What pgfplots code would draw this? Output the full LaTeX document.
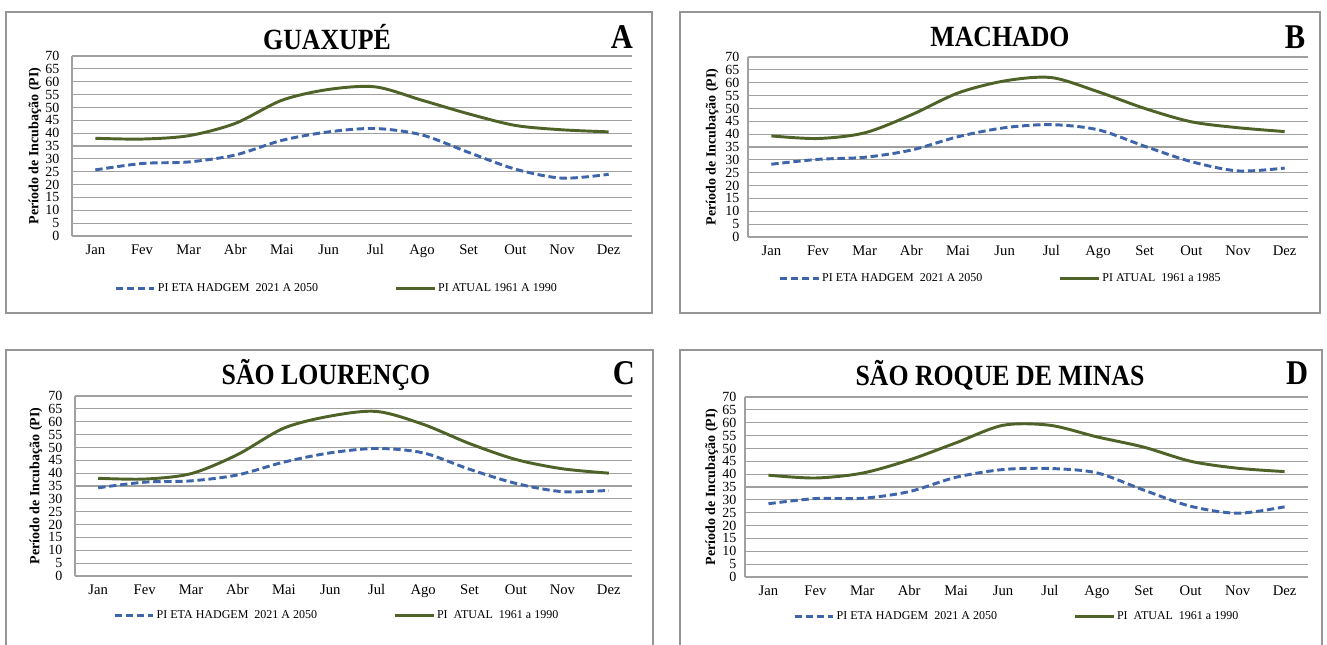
\documentclass[border=0pt]{standalone}
\usepackage{fontspec}
\setmainfont{Liberation Serif}
\newfontfamily\titlefont[FakeStretch=0.88]{Liberation Serif}
\usepackage{pgfplots}
\pgfplotsset{compat=1.18}
\definecolor{pblue}{RGB}{62,100,170}
\definecolor{pgreen}{RGB}{79,98,40}
\definecolor{gridc}{RGB}{160,160,160}
\definecolor{framec}{RGB}{150,150,150}
\pgfplotsset{
 panel/.style={
  scale only axis, width=420pt, height=135pt,
  xmin=-0.5, xmax=11.5, ymin=0, ymax=70,
  xtick={0,...,11}, xticklabels={Jan,Fev,Mar,Abr,Mai,Jun,Jul,Ago,Set,Out,Nov,Dez},
  ytick={0,5,...,70},
  ymajorgrids, grid style={gridc, line width=0.85pt},
  axis x line*=bottom, axis y line*=left, axis line style={gridc, line width=0.85pt, -},
  major tick length=0pt,
  /pgf/number format/assume math mode=true,
  xticklabel style={font=\fontsize{11}{12}\selectfont, text height=1.6ex, text depth=0.3ex, yshift=-3pt},
  yticklabel style={font=\fontsize{10.5}{11}\selectfont},
  ylabel={\textbf{Período de Incubação (PI)}},
  ylabel style={font=\fontsize{10.5}{11}\selectfont},
  legend columns=2,
  legend style={draw=none, fill=none, inner sep=0pt, font=\fontsize{9}{10}\selectfont, nodes={inner sep=1.5pt}, anchor=west},
  legend image code/.code={\draw[##1] (0pt,0pt) -- (29pt,0pt);},
 },
 fut/.style={pblue, line width=2.2pt, dash pattern=on 5.5pt off 2.8pt, smooth, tension=0.5},
 cur/.style={pgreen, line width=2.2pt, smooth, tension=0.5},
}
\begin{document}
\begin{tikzpicture}[x=0.75pt, y=-0.75pt]
\path[use as bounding box] (0,0) rectangle (1327,645);
\draw[framec, line width=1.1pt] (6,12) rectangle (652,313);
\draw[framec, line width=1.1pt] (680,12) rectangle (1320,313);
\draw[framec, line width=1.1pt] (6,350) rectangle (653,660);
\draw[framec, line width=1.1pt] (680,350) rectangle (1322,660);
\coordinate (pa) at (72,236);
\coordinate (pb) at (748,237);
\coordinate (pc) at (75,576);
\coordinate (pd) at (745,577);
\node[font=\titlefont\bfseries\fontsize{22}{24}\selectfont] at (327,37) {GUAXUPÉ};
\node[font=\titlefont\bfseries\fontsize{22}{24}\selectfont] at (1000,37) {MACHADO};
\node[font=\titlefont\bfseries\fontsize{22}{24}\selectfont] at (326,375) {SÃO LOURENÇO};
\node[font=\titlefont\bfseries\fontsize{22}{24}\selectfont] at (1000,375) {SÃO ROQUE DE MINAS};
\node[font=\titlefont\bfseries\fontsize{26}{28}\selectfont] at (622,37) {A};
\node[font=\titlefont\bfseries\fontsize{26}{28}\selectfont] at (1295,37) {B};
\node[font=\titlefont\bfseries\fontsize{26}{28}\selectfont] at (624,373) {C};
\node[font=\titlefont\bfseries\fontsize{26}{28}\selectfont] at (1297,373) {D};

\begin{axis}[panel, at={(pa)}, anchor=south west, yticklabel style={xshift=-6pt},
  ylabel style={at={(axis description cs:-0.066,0.5)}, anchor=center},
  legend style={at={(0.075,-0.29)}}]
\addplot[fut] coordinates {(0,25.7) (1,28.2) (2,28.8) (3,31.5) (4,37.2) (5,40.5) (6,41.8) (7,39.3) (8,32.5) (9,26) (10,22.5) (11,24)};
\addplot[cur] coordinates {(0,38) (1,37.7) (2,39) (3,43.8) (4,52.8) (5,57) (6,58) (7,52.8) (8,47.5) (9,43) (10,41.3) (11,40.5)};
\legend{\makebox[176pt][l]{PI ETA HADGEM\ \ 2021 A 2050}, PI ATUAL 1961 A 1990}
\end{axis}

\begin{axis}[panel, at={(pb)}, anchor=south west, yticklabel style={xshift=-3pt},
  ylabel style={at={(axis description cs:-0.064,0.5)}, anchor=center},
  legend style={at={(0.054,-0.233)}}]
\addplot[fut] coordinates {(0,28.3) (1,30.2) (2,31) (3,33.8) (4,39) (5,42.5) (6,43.7) (7,41.7) (8,35.3) (9,29.3) (10,25.7) (11,26.8)};
\addplot[cur] coordinates {(0,39.3) (1,38.3) (2,40.5) (3,47.5) (4,56) (5,60.7) (6,62) (7,56.5) (8,50) (9,44.8) (10,42.5) (11,41)};
\legend{\makebox[176pt][l]{PI ETA HADGEM\ \ 2021 A 2050}, PI ATUAL\ \ 1961 a 1985}
\end{axis}

\begin{axis}[panel, at={(pc)}, anchor=south west, width=417.75pt, yticklabel style={xshift=-6pt},
  ylabel style={at={(axis description cs:-0.07,0.5)}, anchor=center},
  legend style={at={(0.068,-0.222)}}]
\addplot[fut] coordinates {(0,34.3) (1,36.5) (2,37) (3,39.3) (4,44.3) (5,47.9) (6,49.6) (7,47.9) (8,41.5) (9,36) (10,32.8) (11,33.3)};
\addplot[cur] coordinates {(0,38) (1,37.7) (2,39.8) (3,47.2) (4,57.5) (5,62.2) (6,64) (7,59) (8,51.5) (9,45.3) (10,41.7) (11,40)};
\legend{\makebox[176pt][l]{PI ETA HADGEM\ \ 2021 A 2050}, PI\ \ ATUAL\ \ 1961 a 1990}
\end{axis}

\begin{axis}[panel, at={(pd)}, anchor=south west, width=422.25pt, yticklabel style={xshift=-3pt},
  ylabel style={at={(axis description cs:-0.059,0.5)}, anchor=center},
  legend style={at={(0.085,-0.222)}}]
\addplot[fut] coordinates {(0,28.5) (1,30.5) (2,30.6) (3,33.2) (4,38.8) (5,41.8) (6,42.2) (7,40.5) (8,33.8) (9,27.5) (10,24.8) (11,27.3)};
\addplot[cur] coordinates {(0,39.6) (1,38.5) (2,40.4) (3,45.5) (4,52.2) (5,59) (6,59) (7,54.5) (8,50.5) (9,45) (10,42.3) (11,41)};
\legend{\makebox[176pt][l]{PI ETA HADGEM\ \ 2021 A 2050}, PI\ \ ATUAL\ \ 1961 a 1990}
\end{axis}
\end{tikzpicture}
\end{document}
